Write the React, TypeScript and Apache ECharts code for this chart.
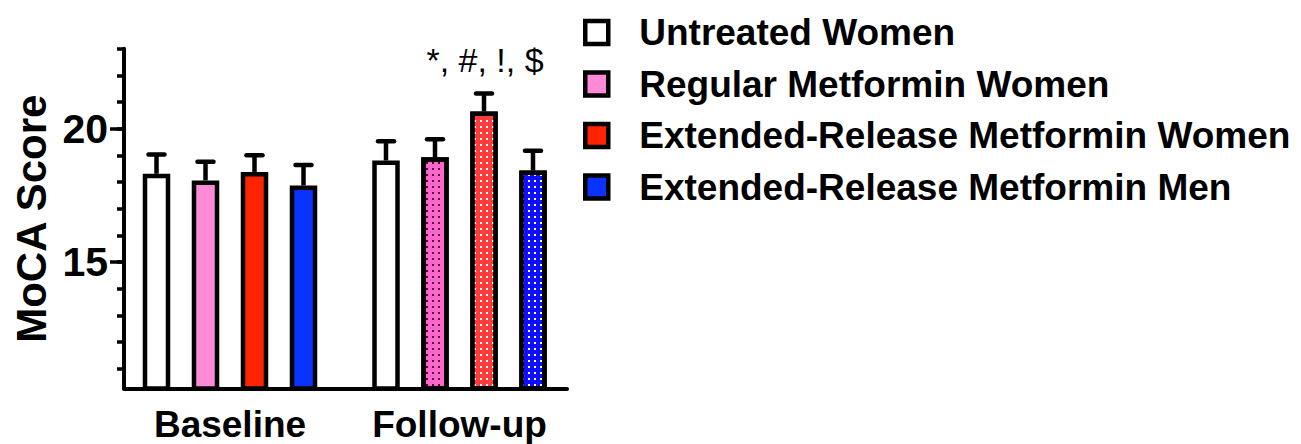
import React, { useEffect, useRef } from 'react';
import * as echarts from 'echarts';

const groups = ['Baseline', 'Follow-up'];
const seriesNames = [
  'Untreated Women',
  'Regular Metformin Women',
  'Extended-Release Metformin Women',
  'Extended-Release Metformin Men',
];
const baselineMeans = [18.31, 18.06, 18.38, 17.87];
const baselineSem = [0.72, 0.7, 0.63, 0.77];
const followUpMeans = [18.81, 18.93, 20.65, 18.43];
const followUpSem = [0.72, 0.68, 0.67, 0.74];
const followUpAnnotations = ['', '', '*, #, !, $', ''];

const yMin = 10.25;
const yMax = 23;
const minorTickValues = [11, 12, 13, 14, 15, 16, 17, 18, 19, 20, 21, 22, 23];
const majorTickValues = [15, 20];

const baseColors = ['#ffffff', '#ff8ad8', '#ff2400', '#0a33ff'];
const followColors = ['#ffffff', '#ff66cc', '#ff3b3b', '#1010ff'];
const dotColors = ['', '#4a0a35', '#ffffff', '#ffffff'];

const FONT = '"Liberation Sans", Arial, Helvetica, sans-serif';
const BAR_WIDTH = 27.5;
const BAR_GAP = 21.5;
const BAR_PITCH = BAR_WIDTH + BAR_GAP;

export default function App() {
  const ref = useRef<HTMLDivElement>(null);

  useEffect(() => {
    if (!ref.current) return;
    const chart = echarts.init(ref.current, null, { renderer: 'svg' });

    const barSeries = seriesNames.map((name, i) => {
      const followItemStyle: any = { color: followColors[i] };
      if (dotColors[i]) {
        followItemStyle.decal = {
          symbol: 'rect',
          symbolSize: 1,
          color: dotColors[i],
          dashArrayX: [1.7, 3.1],
          dashArrayY: [1.7, 3.1],
          rotation: 0,
        };
      }
      return {
        type: 'bar',
        name,
        xAxisIndex: 1,
        yAxisIndex: 2,
        barWidth: BAR_WIDTH,
        barGap: `${(BAR_GAP / BAR_WIDTH) * 100}%`,
        itemStyle: { color: baseColors[i], borderColor: '#000', borderWidth: 4.5 },
        emphasis: { disabled: true },
        data: [baselineMeans[i], { value: followUpMeans[i], itemStyle: followItemStyle }],
      };
    });

    const errData: number[][] = [];
    const errAnn: string[] = [];
    seriesNames.forEach((_, k) => {
      errData.push([0, baselineMeans[k], baselineSem[k], k]);
      errAnn.push('');
      errData.push([1, followUpMeans[k], followUpSem[k], k]);
      errAnn.push(followUpAnnotations[k]);
    });

    const errorSeries = {
      type: 'custom',
      name: 'SEM',
      xAxisIndex: 1,
      yAxisIndex: 2,
      z: 5,
      data: errData,
      renderItem: (params: any, api: any) => {
        const cat = api.value(0);
        const mean = api.value(1);
        const sem = api.value(2);
        const k = api.value(3);
        const p0 = api.coord([cat, mean]);
        const p1 = api.coord([cat, mean + sem]);
        const x = p0[0] + (k - 1.5) * BAR_PITCH;
        const children: any[] = [
          {
            type: 'line',
            shape: { x1: x, y1: p0[1], x2: x, y2: p1[1] },
            style: { stroke: '#000', lineWidth: 4.5 },
          },
          {
            type: 'line',
            shape: { x1: x - 8, y1: p1[1], x2: x + 8, y2: p1[1] },
            style: { stroke: '#000', lineWidth: 4.5, lineCap: 'round' },
          },
        ];
        const ann = errAnn[params.dataIndex];
        if (ann) {
          children.push({
            type: 'text',
            x: x + 1,
            y: p1[1] - 34,
            style: {
              text: ann,
              fill: '#000',
              fontSize: 34,
              fontFamily: FONT,
              align: 'center',
              verticalAlign: 'middle',
            },
          });
        }
        return { type: 'group', children };
      },
    };

    const gridTop = 48.8;
    const gridHeight = 339.8;

    chart.setOption({
      animation: false,
      backgroundColor: '#ffffff',
      textStyle: { fontFamily: FONT },
      grid: [
        { left: 124, top: gridTop, width: 443, height: gridHeight, containLabel: false },
        { left: 115.25, top: gridTop, width: 459, height: gridHeight, containLabel: false },
      ],
      legend: {
        orient: 'vertical',
        left: 583,
        top: 11,
        padding: 0,
        itemWidth: 23,
        itemHeight: 23,
        itemGap: 8.5,
        icon: 'rect',
        selectedMode: false,
        data: seriesNames,
        itemStyle: { borderColor: '#000', borderWidth: 4.5 },
        textStyle: {
          fontSize: 37,
          fontWeight: 'bold',
          color: '#000',
          fontFamily: FONT,
          lineHeight: 43,
          padding: [0, 0, 0, 26],
        },
      },
      xAxis: [
        {
          gridIndex: 0,
          type: 'value',
          min: 0,
          max: 1,
          axisLine: { show: true, onZero: false, lineStyle: { color: '#000', width: 4 } },
          axisTick: { show: false },
          axisLabel: { show: false },
          splitLine: { show: false },
        },
        {
          gridIndex: 1,
          type: 'category',
          data: groups,
          axisLine: { show: false },
          axisTick: { show: false },
          axisLabel: {
            fontSize: 37,
            fontWeight: 'bold',
            color: '#000',
            fontFamily: FONT,
            margin: 17,
          },
          splitLine: { show: false },
        },
      ],
      yAxis: [
        {
          gridIndex: 0,
          type: 'value',
          position: 'left',
          min: yMin,
          max: yMax,
          axisLine: { show: true, onZero: false, lineStyle: { color: '#000', width: 4 } },
          axisTick: {
            show: true,
            length: 7,
            customValues: minorTickValues,
            lineStyle: { color: '#000', width: 3.5 },
          },
          axisLabel: { show: false },
          splitLine: { show: false },
        },
        {
          gridIndex: 0,
          type: 'value',
          position: 'left',
          min: yMin,
          max: yMax,
          axisLine: { show: false },
          axisTick: {
            show: true,
            length: 14,
            customValues: majorTickValues,
            lineStyle: { color: '#000', width: 3.5 },
          },
          axisLabel: {
            show: true,
            customValues: majorTickValues,
            fontSize: 41,
            fontWeight: 'bold',
            color: '#000',
            fontFamily: FONT,
            margin: 16,
          },
          splitLine: { show: false },
          name: 'MoCA Score',
          nameLocation: 'middle',
          nameGap: 72,
          nameTextStyle: { fontSize: 42, fontWeight: 'bold', color: '#000', fontFamily: FONT },
        },
        {
          gridIndex: 1,
          type: 'value',
          show: false,
          min: yMin,
          max: yMax,
          splitLine: { show: false },
        },
      ],
      series: [...barSeries, errorSeries],
    });

    return () => {
      chart.dispose();
    };
  }, []);

  return (
    <div
      ref={ref}
      style={{ position: 'fixed', left: 0, top: 0, width: 1301, height: 444, background: '#fff' }}
    />
  );
}
